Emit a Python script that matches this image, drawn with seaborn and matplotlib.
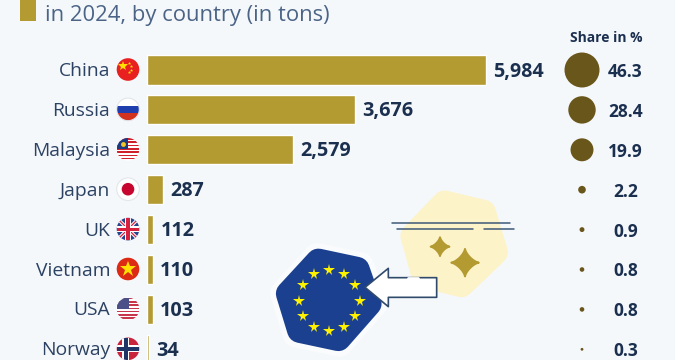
import numpy as np
import pandas as pd
import matplotlib
matplotlib.use("Agg")
import matplotlib.pyplot as plt
from matplotlib.patches import Circle, Polygon, Rectangle
import seaborn as sns

# data
countries = ["China", "Russia", "Malaysia", "Japan", "UK", "Vietnam", "USA", "Norway"]
tons = [5984, 3676, 2579, 287, 112, 110, 103, 34]
shares = [46.3, 28.4, 19.9, 2.2, 0.9, 0.8, 0.8, 0.3]
title_line = "in 2024, by country (in tons)"
share_title = "Share in %"

BG = "#f5f8fb"
GOLD = "#b39a31"
BROWN = "#69561a"
NAVY = "#1b2f4f"
LABEL = "#2c4263"
TITLE = "#4b6486"

W, H = 675, 360
sns.set_theme(style="white")
plt.rcParams["font.family"] = ["Open Sans", "DejaVu Sans"]

fig = plt.figure(figsize=(W / 100, H / 100), dpi=100, facecolor=BG)

# bars live in an axes spanning the whole figure
ax = fig.add_axes([0, 0, 1, 1], facecolor="none")
df = pd.DataFrame({"country": countries, "tons": tons, "share": shares})
sns.barplot(data=df, y="country", x="tons", color=GOLD, saturation=1, width=0.73, ax=ax, orient="h")
px_per_ton = 339 / 5984
row0, row_step = 70, 39.9

# share bubbles, area follows the share
bubble_x = (582 - 147) / px_per_ton
df["bubble_x"] = bubble_x
sns.scatterplot(data=df, x="bubble_x", y=np.arange(len(df)), s=df["share"] * 13.7,
                color=BROWN, linewidth=0, legend=False, ax=ax)
ax.set_xlim(-147 / px_per_ton, (W - 147) / px_per_ton)
ax.set_ylim((H - row0) / row_step, -row0 / row_step)
ax.axis("off")

for i, (t, s) in enumerate(zip(tons, shares)):
    ax.annotate(f"{t:,}", (t, i), xytext=(7, -1.5), textcoords="offset pixels", ha="left", va="center",
                fontsize=14.2, fontweight="bold", color=NAVY)
    ax.annotate(f"{s}", (bubble_x, i), xytext=(43.5, -2), textcoords="offset pixels", ha="center", va="center",
                fontsize=12.5, fontweight="bold", color=NAVY)

# pixel axes for flags, labels and the decoration
ov = fig.add_axes([0, 0, 1, 1], facecolor="none")
ov.set_xlim(0, W)
ov.set_ylim(H, 0)
ov.axis("off")

ov.add_patch(Rectangle((20, -2), 16, 23, color=GOLD, lw=0))
ov.text(45, 15.5, title_line, fontsize=15.8, color=TITLE, va="center", ha="left")
ov.text(606.5, 38, share_title, fontsize=10, fontweight="bold", color=NAVY, ha="center", va="center")

FLAG_X, FLAG_R = 128, 11.3


def flag_rects(y, circle, rects):
    for x0, y0, w, h, c in rects:
        r = Rectangle((FLAG_X + x0, y + y0), w, h, color=c, lw=0, zorder=4)
        ov.add_patch(r)
        r.set_clip_path(circle)


for i, name in enumerate(countries):
    y = row0 + row_step * i - 0.5
    ov.text(110, y + 1.5, name, fontsize=13.9, color=LABEL, ha="right", va="center")
    base = {"China": "#e8201f", "Russia": "#ffffff", "Malaysia": "#ffffff", "Japan": "#ffffff",
            "UK": "#ffffff", "Vietnam": "#dc2a14", "USA": "#ffffff", "Norway": "#c8243c"}[name]
    circle = Circle((FLAG_X, y), FLAG_R, color=base, lw=0, zorder=3)
    ov.add_patch(circle)
    R = FLAG_R
    if name == "China":
        ov.plot(FLAG_X - 5, y - 4, marker="*", ms=7, color="#ffe000", mew=0, zorder=5)
        ov.plot([FLAG_X + 1, FLAG_X + 3, FLAG_X + 3, FLAG_X + 1], [y - 7, y - 4, y, y + 2], ls="",
                marker="*", ms=2.5, color="#ffe000", mew=0, zorder=5)
    elif name == "Russia":
        flag_rects(y, circle, [(-R, -3.8, 2 * R, 7.6, "#1f3fae"), (-R, 3.8, 2 * R, 8, "#d2331f")])
        ov.add_patch(Circle((FLAG_X, y), R, fill=False, ec="#e3e6ea", lw=0.8, zorder=5))
    elif name == "Malaysia":
        rects = [(-R, -R + k * 3.3, 2 * R, 1.65, "#d0202c") for k in range(7)]
        rects.append((-R, -R, R, R, "#1c3a80"))
        flag_rects(y, circle, rects)
        ov.plot(FLAG_X - 5, y - 5, marker="o", ms=3.5, color="#f2c61e", mew=0, zorder=5)
    elif name == "Japan":
        ov.add_patch(Circle((FLAG_X, y), R, fill=False, ec="#e3e6ea", lw=0.8, zorder=5))
        ov.add_patch(Circle((FLAG_X, y), 6.3, color="#c6062e", lw=0, zorder=5))
    elif name == "UK":
        circle.set_facecolor("#27448c")
        for dx in (1, -1):
            line, = ov.plot([FLAG_X - R * dx, FLAG_X + R * dx], [y - R, y + R], color="white", lw=2.4, zorder=4)
            line.set_clip_path(circle)
            line, = ov.plot([FLAG_X - R * dx, FLAG_X + R * dx], [y - R, y + R], color="#d8213f", lw=0.9, zorder=4)
            line.set_clip_path(circle)
        flag_rects(y, circle, [(-R, -3, 2 * R, 6, "white"), (-3, -R, 6, 2 * R, "white"),
                               (-R, -1.6, 2 * R, 3.2, "#d8213f"), (-1.6, -R, 3.2, 2 * R, "#d8213f")])
    elif name == "Vietnam":
        ov.plot(FLAG_X, y, marker="*", ms=12, color="#ffe000", mew=0, zorder=5)
    elif name == "USA":
        rects = [(-R, -R + k * 3.3, 2 * R, 1.65, "#c8344a") for k in range(7)]
        rects.append((-R, -R, R + 1, R, "#4a4f88"))
        flag_rects(y, circle, rects)
    elif name == "Norway":
        flag_rects(y, circle, [(-R, -3.6, 2 * R, 7.2, "white"), (-6, -R, 7.2, 2 * R, "white"),
                               (-R, -1.9, 2 * R, 3.8, "#1f3565"), (-4.3, -R, 3.8, 2 * R, "#1f3565")])


def zoom_pts(pts):
    # positions measured on the 3x crop starting at (260, 180)
    return [(260 + x / 3, 180 + y / 3) for x, y in pts]


def rounded(pts, color, lw, z, scale=1.0):
    # pull the corners in, the thick round edge grows them back
    p = np.array(pts, dtype=float)
    c = p.mean(axis=0)
    p = c + (p - c) * scale
    ov.add_patch(Polygon(zoom_pts(p), closed=True, fc=color, ec=color, lw=lw, joinstyle="round", zorder=z))


eu_hex = [(165, 205), (320, 238), (368, 375), (245, 515), (90, 482), (45, 335)]
blob = [(545, 28), (700, 65), (748, 225), (612, 355), (462, 318), (418, 160)]

# soft halo and the EU hexagon
rounded(eu_hex, "#f9fbfd", 18, 2, scale=0.86)
rounded(eu_hex, "#1a408f", 18, 3, scale=0.75)
cx, cy = 260 + 207 / 3, 180 + 362 / 3
for a in np.arange(0, 360, 30):
    ov.plot(cx + 30.5 * np.cos(np.radians(a)), cy + 30.5 * np.sin(np.radians(a)), marker="*", ms=8.5,
            color="#fff200", mew=0, zorder=4)

# yellow blob with the sparkles
rounded(blob, "#fdf3c9", 18, 1, scale=0.75)


def sparkle(x, y, r):
    t = np.linspace(0, 2 * np.pi, 80)
    sx = x + r * np.sign(np.cos(t)) * np.abs(np.cos(t)) ** 2.8
    sy = y + r * np.sign(np.sin(t)) * np.abs(np.sin(t)) ** 2.8
    ov.add_patch(Polygon(zoom_pts(list(zip(sx, sy))), closed=True, fc=GOLD, ec=GOLD, lw=1.5,
                         joinstyle="round", zorder=2))


sparkle(540, 200, 28)
sparkle(615, 248, 41)

# strike lines
for x0, x1, y in [(396, 750, 130), (410, 640, 146), (672, 763, 146)]:
    (a, b) = zoom_pts([(x0, y), (x1, y)])
    ov.plot([a[0], b[0]], [a[1], b[1]], color="#3e5878", lw=1.1, zorder=5, solid_capstyle="round")

# arrow pointing at the flag
arrow = [(315, 322), (385, 265), (385, 293), (530, 293), (530, 352), (385, 352), (385, 380)]
ov.add_patch(Polygon(zoom_pts(arrow), closed=True, fc="white", ec="#2f4a6b", lw=1.2, joinstyle="round", zorder=6))
(a, b) = zoom_pts([(445, 293), (475, 293)])
ov.plot([a[0], b[0]], [a[1], b[1]], color="white", lw=2, zorder=7)

fig.savefig("out.png", dpi=100, facecolor=BG)
